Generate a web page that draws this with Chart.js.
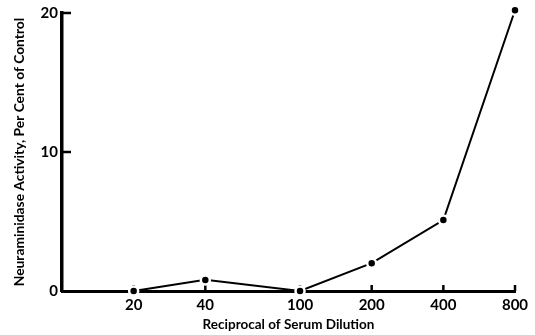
<!DOCTYPE html>
<html>
<head>
<meta charset="utf-8">
<script src="https://cdn.jsdelivr.net/npm/chart.js@4.4.0/dist/chart.umd.min.js"></script>
<style>
  html, body { margin: 0; padding: 0; background: #fff; }
</style>
</head>
<body>
<canvas id="chart" width="535" height="335"></canvas>
<script>
// values
let dilution = [20, 40, 100, 200, 400, 800]
let activity = [0, 0.8, 0, 2.0, 5.1, 20.2]
let xTicks = [20, 40, 100, 200, 400, 800]
let yTicks = [0, 10, 20]

const fontFamily = 'Lato, "DejaVu Sans", sans-serif'

// short tick marks pointing into the plot, like the original
const inwardTicks = {
  id: 'inwardTicks',
  beforeDatasetsDraw(chart) {
    const { ctx, chartArea, scales } = chart
    ctx.save()
    ctx.strokeStyle = '#000'
    ctx.lineWidth = 2.5
    xTicks.forEach(v => {
      const px = scales.x.getPixelForValue(v)
      ctx.beginPath()
      ctx.moveTo(px, chartArea.bottom)
      ctx.lineTo(px, chartArea.bottom - 6)
      ctx.stroke()
    })
    yTicks.slice(1).forEach(v => {
      const py = scales.y.getPixelForValue(v)
      ctx.beginPath()
      ctx.moveTo(chartArea.left, py)
      ctx.lineTo(chartArea.left + 9, py)
      ctx.stroke()
    })
    ctx.restore()
  }
}

let ctx = document.querySelector('#chart').getContext('2d')

let chart = new Chart(ctx, {
  type: 'line',
  data: {
    datasets: [{
      data: dilution.map((d, i) => ({ x: d, y: activity[i] })),
      borderColor: '#000',
      borderWidth: 2,
      pointRadius: 4.5,
      pointBackgroundColor: '#000',
      pointBorderColor: '#fff',
      pointBorderWidth: 2.5,
      tension: 0,
      clip: false
    }]
  },
  options: {
    responsive: false,
    animation: false,
    layout: { padding: { top: 12, right: 20, left: 0, bottom: 0 } },
    plugins: {
      legend: { display: false },
      tooltip: { enabled: false }
    },
    scales: {
      x: {
        type: 'logarithmic',
        min: 10,
        max: 800,
        afterBuildTicks: scale => { scale.ticks = xTicks.map(v => ({ value: v })) },
        afterFit: scale => { scale.height = 44 },
        grid: { display: false, drawTicks: false },
        border: { display: true, color: '#000', width: 3 },
        ticks: {
          color: '#000',
          padding: 5,
          maxRotation: 0,
          autoSkip: false,
          font: { family: fontFamily, size: 15, weight: 'bold' },
          callback: v => String(v)
        },
        title: {
          display: true,
          text: 'Reciprocal of Serum Dilution',
          color: '#000',
          padding: { top: 0, bottom: 2 },
          font: { family: fontFamily, size: 13.5, weight: 'bold' }
        }
      },
      y: {
        min: 0,
        max: 20,
        afterBuildTicks: scale => { scale.ticks = yTicks.map(v => ({ value: v })) },
        afterFit: scale => { scale.width = 62 },
        grid: { display: false, drawTicks: false },
        border: { display: true, color: '#000', width: 3.5 },
        ticks: {
          color: '#000',
          padding: 4,
          font: { family: fontFamily, size: 15, weight: 'bold' }
        },
        title: {
          display: true,
          text: 'Neuraminidase Activity, Per Cent of Control',
          color: '#000',
          padding: { top: 11, bottom: 0 },
          font: { family: fontFamily, size: 13.8, weight: 'bold' }
        }
      }
    }
  },
  plugins: [inwardTicks]
})
</script>
</body>
</html>
